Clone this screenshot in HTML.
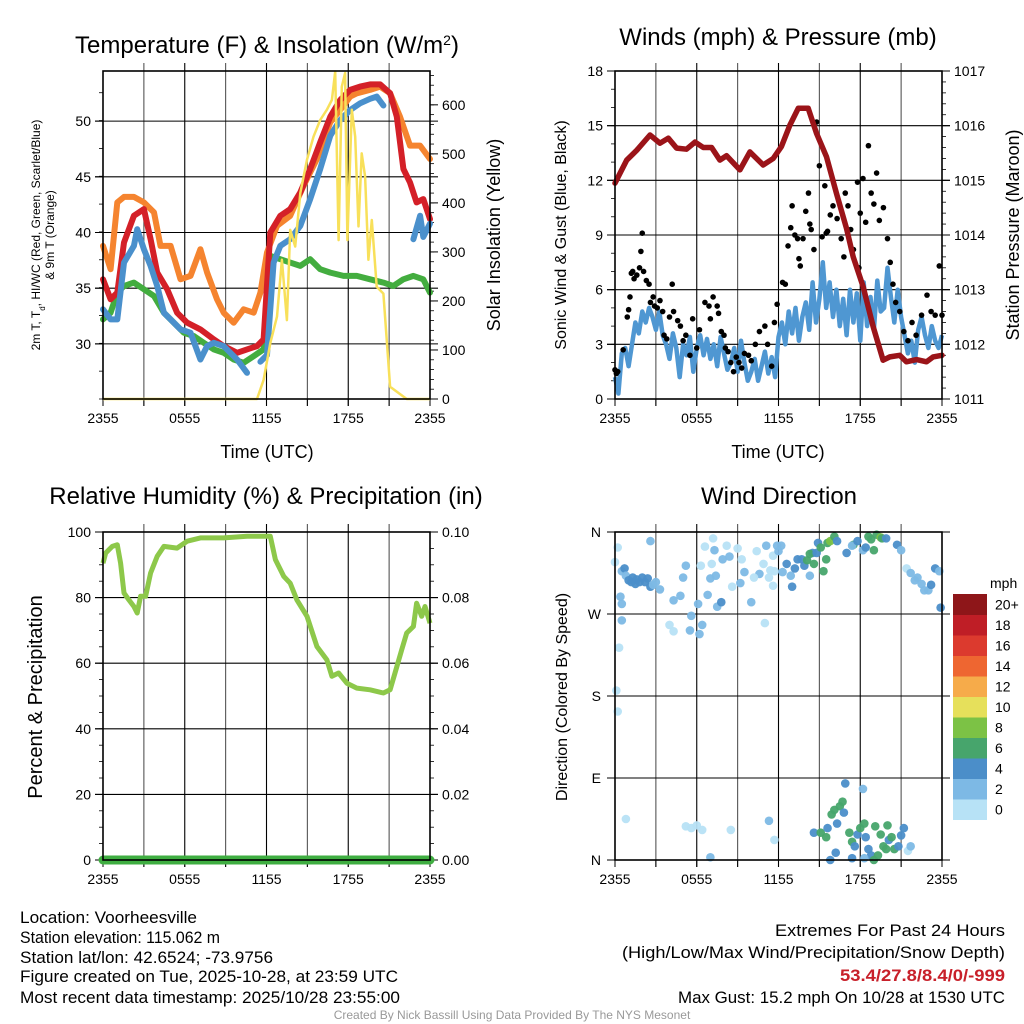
<!DOCTYPE html>
<html><head><meta charset="utf-8">
<style>
html,body{margin:0;padding:0;background:#fff;}
svg{display:block;font-family:"Liberation Sans",Arial,sans-serif;}
</style></head>
<body>
<svg id="fig" width="1024" height="1024" viewBox="0 0 1024 1024" xmlns="http://www.w3.org/2000/svg">
<rect width="1024" height="1024" fill="#fff"/>
<g id="p1"></g>
<g id="p2"></g>
<g id="p3"></g>
<g id="p4"></g>
<g font-size="17" fill="#000">
<text x="20" y="923" textLength="177" lengthAdjust="spacingAndGlyphs">Location: Voorheesville</text>
<text x="20" y="943" textLength="200" lengthAdjust="spacingAndGlyphs">Station elevation: 115.062 m</text>
<text x="20" y="963" textLength="253" lengthAdjust="spacingAndGlyphs">Station lat/lon: 42.6524; -73.9756</text>
<text x="20" y="982" textLength="378" lengthAdjust="spacingAndGlyphs">Figure created on Tue, 2025-10-28, at 23:59 UTC</text>
<text x="20" y="1003" textLength="380" lengthAdjust="spacingAndGlyphs">Most recent data timestamp: 2025/10/28 23:55:00</text>
<text x="1005" y="936" text-anchor="end" textLength="230" lengthAdjust="spacingAndGlyphs">Extremes For Past 24 Hours</text>
<text x="1005" y="958" text-anchor="end" textLength="383" lengthAdjust="spacingAndGlyphs">(High/Low/Max Wind/Precipitation/Snow Depth)</text>
<text x="1005" y="981" text-anchor="end" textLength="165" lengthAdjust="spacingAndGlyphs" fill="#c8202a" font-weight="bold">53.4/27.8/8.4/0/-999</text>
<text x="1005" y="1003" text-anchor="end" textLength="327" lengthAdjust="spacingAndGlyphs">Max Gust: 15.2 mph On 10/28 at 1530 UTC</text>
<text x="512" y="1019" text-anchor="middle" font-size="12" fill="#999">Created By Nick Bassill Using Data Provided By The NYS Mesonet</text>
</g>
</svg>
<script>
// ---------- data ----------
const xTickLabels = ["2355","0555","1155","1755","2355"];
// Temperature (hours since 2355, value F)
const redT = [0,0.56,1.05,1.54,2.27,3.0,3.49,3.98,4.71,5.44,6.18,7.15,8.13,8.86,9.84,10.57,11.3,11.79,12.28,13.01,13.74,14.48,15.21,15.94,16.68,17.41,18.14,18.87,19.6,20.34,21.07,21.56,22.05,22.53,23.02,23.51,24];
const redV = [35.8,34,34.6,39.1,41.5,42.1,39.4,36.4,34.9,32.8,31.9,31.3,30.4,29.8,29.2,29.5,29.8,30.4,40,41.5,42.1,43.6,45.7,48.1,50.4,51.9,52.8,53.1,53.3,53.3,52.5,50.4,45.7,44.5,42.7,43,41.2];
const orangeT = [0,0.56,1.05,1.54,2.27,3.0,3.74,4.22,4.96,5.69,6.42,7.15,7.64,8.37,8.86,9.59,10.33,11.06,11.55,12.04,12.77,13.74,14.72,15.7,16.68,17.41,18.14,18.63,19.6,20.34,21.07,21.8,22.53,23.27,24];
const orangeV = [38.8,36.7,42.7,43.2,43.2,42.7,41.8,38.8,38.8,35.8,36.1,38.5,36.4,34,32.8,31.9,33.1,32.8,34.6,38.2,40.6,41.5,44.2,46.6,49.9,51,52.2,52.5,52.8,53.1,52.5,50.4,47.8,47.8,46.6];
const blueT = [0,0.56,1.05,1.54,2.27,2.51,3.0,3.49,3.98,4.47,4.96,5.69,6.42,7.15,7.64,8.13,8.86,9.84,10.57,11.06,11.55,12.04,12.52,13.01,13.74,14.48,15.21,15.94,16.68,17.41,18.14,18.87,19.6,20.09,20.58,20.8,22.78,23.27,23.51,24];
const blueV = [33.1,32.2,32.2,37.3,38.8,40.3,38.5,37,35.2,32.8,32.2,31.3,31,28.6,29.8,30.1,29.8,28.6,27.4,null,28.4,29,37.3,38.8,39.4,40.6,43,45.7,48.7,50.1,51,51.6,52,52.2,51.4,null,39.4,41.5,39.6,40.8];
const greenT = [0,0.56,1.05,1.54,2.27,3.0,3.74,4.47,5.2,5.93,6.67,7.4,8.13,8.86,9.59,10.33,11.06,11.79,12.28,13.01,13.74,14.48,15.21,15.94,16.68,17.65,18.63,19.6,20.58,21.31,22.05,22.78,23.51,24];
const greenV = [32.2,32.8,34.6,35.2,35.5,34.9,34.3,32.8,31.9,31,30.7,30.1,29.5,29.2,28.6,28.3,28.9,29.5,37.9,37.6,37.3,37,37.6,36.7,36.4,36.1,36.1,35.8,35.5,35.2,35.8,36.1,35.8,34.6];
const solarT = [0,11.3,11.79,12.28,12.77,13.13,13.5,13.74,14.11,14.48,14.97,15.45,15.94,16.43,16.8,17.04,17.29,17.53,17.77,17.94,18.26,18.51,18.75,18.99,19.24,19.48,19.73,20.09,20.58,21.07,22.29,24];
const solarV = [0,0,39,114,168,284,161,345,311,420,488,535,569,590,610,668,324,637,665,324,590,535,352,501,454,284,365,229,215,25,0,0];
// Winds
const windV = [1.2,0.3,2.5,2.8,1.8,3.0,4.2,3.6,4.8,4.2,5.0,4.5,3.8,4.8,3.5,3.0,2.2,3.6,2.8,1.2,3.0,2.4,3.4,1.5,2.8,3.5,2.4,3.3,2.2,3.0,1.8,3.4,2.5,1.6,2.0,2.8,1.5,3.2,2.0,1.0,1.5,2.2,1.0,1.8,2.6,1.4,2.3,1.2,3.4,4.2,3.0,4.8,3.6,5.0,3.2,4.5,5.3,3.8,6.4,4.2,5.5,7.5,5.0,6.4,4.5,6.0,4.0,5.5,3.5,6.0,4.2,5.8,3.2,6.4,4.0,5.6,3.8,6.5,4.8,5.0,7.2,5.6,4.2,6.0,4.5,3.5,2.5,3.2,2.0,3.8,4.5,3.5,2.8,4.0,3.2,2.8,3.5];
const gustT = [0,0.1,0.2,0.6,0.9,1.0,1.1,1.2,1.3,1.4,1.6,1.8,1.9,2.0,2.1,2.3,2.5,2.6,2.8,2.9,3.1,3.3,3.5,3.6,3.8,4.0,4.2,4.3,4.6,4.8,5.0,5.2,5.5,5.7,6.0,6.2,6.6,6.9,7.0,7.2,7.5,7.6,7.8,8.0,8.1,8.3,8.5,8.7,8.9,9.1,9.3,9.5,9.8,10.0,10.3,10.6,11.0,11.2,11.5,11.7,11.9,12.3,12.5,12.7,12.9,13.0,13.2,13.4,13.6,13.8,14.0,14.2,14.4,14.6,14.8,15.0,15.2,15.4,15.6,15.8,16.0,16.3,16.6,16.9,17.1,17.3,17.5,17.8,18.0,18.2,18.4,18.6,18.8,19.0,19.2,19.4,19.7,20.0,20.2,20.4,20.6,20.9,21.2,21.5,21.8,22.1,22.5,22.9,23.2,23.5,23.8,24.0,13.5,14.3,15.5,16.8,17.9];
const gustV = [1.6,1.4,1.5,2.7,4.5,4.9,5.6,6.9,7.0,6.6,6.8,7.2,8.1,9.1,7.0,6.5,6.3,5.3,5.6,5.1,5.0,5.4,4.8,3.5,3.3,4.5,6.3,4.8,4.3,4.0,3.2,3.5,2.4,4.4,2.8,3.8,5.3,5.1,4.4,5.6,5.1,4.7,3.7,3.5,2.8,2.6,2.0,1.5,2.3,2.0,1.7,2.5,2.4,2.1,3.0,3.7,4.0,3.0,1.8,4.2,5.2,6.4,6.3,8.4,9.4,10.6,9.0,8.8,7.3,8.8,10.3,11.3,9.3,8.2,15.2,12.8,8.9,11.7,9.2,10.1,10.6,9.9,8.8,11.3,10.6,9.3,8.2,11.9,10.2,12.1,9.7,13.9,11.3,10.7,12.4,9.8,10.5,8.8,7.5,6.3,5.3,4.8,3.7,3.2,4.2,3.5,4.6,5.7,4.8,4.6,7.3,4.6,7.7,9.6,9.1,7.8,7.2];
const presT = [0,0.86,1.59,2.57,3.3,3.91,4.52,5.25,5.87,6.48,7.09,7.7,8.19,9.17,9.9,10.88,11.61,12.22,12.84,13.45,14.18,14.79,15.52,16.26,16.99,17.48,18.22,18.95,19.68,20.17,20.9,21.39,22.13,22.86,23.35,24];
const presV = [1014.95,1015.37,1015.55,1015.83,1015.68,1015.77,1015.59,1015.57,1015.7,1015.6,1015.6,1015.37,1015.45,1015.19,1015.52,1015.28,1015.4,1015.62,1016.01,1016.32,1016.32,1015.86,1015.43,1014.76,1014.12,1013.6,1013.05,1012.32,1011.71,1011.77,1011.8,1011.68,1011.72,1011.68,1011.77,1011.8];
// Humidity
const rhT = [0,0.2,0.68,1.05,1.29,1.54,1.9,2.27,2.51,2.76,3.13,3.49,3.98,4.47,5.44,6.18,7.15,8.86,10.57,12.28,12.65,13.26,13.74,14.23,14.97,15.7,16.43,16.8,17.29,17.9,18.63,19.6,20.58,21.07,21.43,21.92,22.29,22.78,23.02,23.39,23.63,24];
const rhV = [90.5,93.6,95.6,96.1,90.5,81.4,79.3,77.3,75.3,80.4,80.4,87.5,92.6,95.6,95.1,97.2,98.2,98.2,98.7,98.7,91.6,86.5,84.4,79.3,74.3,65.1,61,56,57,53.9,52.4,51.9,50.9,51.9,57,64.1,69.2,71.2,78.3,74.3,77.3,72.2];
const precipT = [0,24];
const precipV = [0,0];
// Wind direction: hours, degrees, mph
const dirT = [0.0,0.2,0.5,0.7,0.8,1.0,1.2,1.3,1.5,1.6,1.8,2.0,2.2,2.4,2.6,2.8,3.0,3.3,0.5,0.4,0.5,0.3,0.1,0.2,2.6,4.0,4.3,4.3,4.8,5.0,5.2,5.5,5.6,6.1,6.4,6.2,6.6,6.8,6.3,7.0,7.1,7.4,7.5,7.8,7.3,7.2,7.9,8.2,8.4,8.6,9.0,9.2,9.5,10.0,10.4,10.6,10.9,11.1,11.3,11.7,11.4,11.6,11.9,12.0,12.2,11.0,11.6,9.3,10.2,12.3,12.6,12.9,13.0,13.2,13.4,13.7,13.9,14.1,14.3,14.5,14.3,14.6,14.8,14.9,15.1,15.3,15.5,15.6,15.8,16.1,16.3,17.0,17.5,17.4,17.8,18.2,18.4,18.6,18.8,19.0,19.2,19.5,19.6,19.9,20.7,21.0,21.4,21.7,22.0,22.2,22.5,22.7,23.0,23.2,23.5,23.8,23.9,14.6,15.1,15.5,15.6,15.9,16.1,16.3,16.5,16.7,16.8,16.9,17.2,17.4,17.6,17.8,18.0,18.2,18.3,18.4,18.6,18.8,19.0,19.3,19.5,19.7,19.9,20.1,20.3,20.5,20.8,21.0,21.2,21.5,21.7,16.2,17.4,15.8,18.3,19.1,20.0,0.8,5.2,5.6,6.4,8.5,11.3,11.7,7.0,6.0];
const dirV = [327,343,317,320,312,307,305,310,303,308,305,310,305,309,300,302,305,297,281,289,263,233,186,163,350,258,251,285,290,310,323,252,268,281,258,248,344,291,323,309,325,312,278,283,340,353,330,345,333,300,342,304,316,283,339,314,325,345,310,317,318,334,345,339,345,260,301,330,310,316,325,312,300,320,330,330,323,329,312,337,336,325,337,348,343,317,330,348,350,355,350,337,346,345,350,340,343,355,352,340,357,354,353,353,346,340,320,315,307,310,303,296,296,302,320,317,277,30,30,25,35,50,55,40,59,64,52,84,30,20,15,28,35,78,40,25,12,5,0,5,28,15,12,22,25,12,15,27,35,10,15,8,2,0,2,37,38,45,37,35,33,33,43,22,3,38];
const dirS = [1,1.5,3,4,2.5,4,4,4,4,4.5,4,4,4,4,5,3,3,3,2,2.5,2,1,1,1,2.5,1.5,1.5,2.5,3,2.5,2.5,3,2,3,3,2,1,2.5,1.5,2,1.5,2,3,4,2.5,1,2.5,1.5,2,1.5,1.5,2,2,2.5,1.5,2.5,1,2,1.5,1,1.5,1,2.5,2,2.5,1,1.5,1,1.5,3.5,4,3.5,4.5,4,4,4,4.5,6.5,3.5,4,6.5,6.5,5,4,6.5,6.5,6.5,6.5,8.5,6.5,4.5,4.5,6.5,3.5,4.5,2.5,5,6.5,6.5,6.5,6.5,8.5,6.5,4,4,2,1.5,2,2,3,2,3.5,3,4,4,3,4.5,4.5,6.5,6,4.5,6.5,6.5,5,6.5,6.5,4.5,4.5,6.5,6.5,4.5,4,6.5,2.5,6.5,4.5,4,4.5,6.5,6.5,6.5,6.5,6.5,4.5,6.5,6,4,4,4.5,1.5,2,4.5,4.5,4.5,3,6.5,6.5,1.5,1.5,1,1,1,2,1,2.5,1.5];
const speedLabels = ["0","2","4","6","8","10","12","14","16","18","20+"];
const speedColors = ["#b7e2f6","#7db9e5","#4b8ec9","#47a56c","#7cc245","#e6e05b","#f6ab4a","#ee6631","#dc3a2e","#bf1e26","#8e1619"];

// ---------- helpers ----------
const NS="http://www.w3.org/2000/svg";
function mk(tag,attrs,parent){const e=document.createElementNS(NS,tag);for(const k in attrs)e.setAttribute(k,attrs[k]);parent.appendChild(e);return e;}
function txt(parent,x,y,s,size,anchor,extra){const t=mk('text',Object.assign({x:x,y:y,'font-size':size,'text-anchor':anchor||'middle',fill:'#000'},extra||{}),parent);t.textContent=s;return t;}
function linePath(xs,ys,sx,sy){let d='',pen=false;for(let i=0;i<xs.length;i++){if(ys[i]===null||ys[i]===undefined){pen=false;continue;}d+=(pen?'L':'M')+sx(xs[i]).toFixed(1)+','+sy(ys[i]).toFixed(1);pen=true;}return d;}

function frame(g,box){
  const {x0,x1,y0,y1}=box;
  const sx=t=>x0+(t/24)*(x1-x0);
  for(let h=3;h<24;h+=3){const l=mk('line',{x1:sx(h),x2:sx(h),y1:y0-8,y2:y1+7,stroke:(h%6===0?'#000':'#555'),'stroke-width':1.1},g);
    
    }
  for(let i=0;i<xTickLabels.length;i++){const t=txt(g,sx(i*6),y1+24,xTickLabels[i],14);
    
    }
  for(let h=0;h<=24;h+=3){mk('line',{x1:sx(h),x2:sx(h),y1:y1,y2:y1+7,stroke:'#000','stroke-width':1},g);}
  return sx;
}
function yAxis(g,box,min,max,major,minor,side,fmt,gridlines){
  const {x0,x1,y0,y1}=box;
  const sy=v=>y1-(v-min)/(max-min)*(y1-y0);
  const X=side==='left'?x0:x1, dir=side==='left'?-1:1;
  for(let v=min;v<=max+1e-9;v+=minor){const y=sy(v);mk('line',{x1:X,x2:X+dir*4,y1:y,y2:y,stroke:'#000','stroke-width':0.8},g);}
  for(let v=Math.ceil(min/major-1e-9)*major;v<=max+1e-9;v+=major){const y=sy(v);
    if(gridlines){const gl=mk('line',{x1:x0-8,x2:x1+8,y1:y,y2:y,stroke:'#000','stroke-width':1.1},g);
      
      }
    mk('line',{x1:X,x2:X+dir*8,y1:y,y2:y,stroke:'#000','stroke-width':1},g);
    const t=txt(g,X+dir*12,y+5,fmt(v),14,side==='left'?'end':'start');
    
    }
  return sy;
}
function border(g,box){const r=mk('rect',{x:box.x0,y:box.y0,width:box.x1-box.x0,height:box.y1-box.y0,fill:'none',stroke:'#000','stroke-width':1.6},g);
  
  }

// ---------- Panel 1 ----------
(function(){
const g=document.getElementById('p1');
const box={x0:103,x1:430,y0:71,y1:399};
const sx=frame(g,box);
const sy=yAxis(g,box,25.05,54.5,5,2.5,'left',v=>String(Math.round(v)),true);
const sr=yAxis(g,box,0,669,100,20,'right',v=>String(Math.round(v)),false);
const series=[[orangeT,orangeV,'#f5842f','orange-9m-temp-line',sy],[greenT,greenV,'#43ad3f','green-dewpoint-line',sy],[redT,redV,'#d42028','red-2m-temp-line',sy],[blueT,blueV,'#4a90cc','blue-windchill-line',sy]];
for(const s of series){const p=mk('path',{d:linePath(s[0],s[1],sx,s[4]),fill:'none',stroke:s[2],'stroke-width':6,'stroke-linejoin':'round','stroke-linecap':'round'},g);
  
  }
const p=mk('path',{d:linePath(solarT,solarV,sx,sr),fill:'none',stroke:'#f8e05a','stroke-width':2.5,'stroke-linejoin':'round'},g);


border(g,box);
const t=txt(g,267,53,'Temperature (F) & Insolation (W/m',24);
const sup=mk('tspan',{'baseline-shift':'super','font-size':14},t);sup.textContent='2';
const tc=mk('tspan',{'baseline-shift':'0'},t);tc.textContent=')';


const xl=txt(g,267,458,'Time (UTC)',18);


const yl=mk('g',{transform:'translate(40,235) rotate(-90)'},g);


const l1=txt(yl,0,0,'2m T, T',12); const sub=mk('tspan',{'baseline-shift':'sub','font-size':8},l1); sub.textContent='d'; const rest=mk('tspan',{'baseline-shift':'0'},l1); rest.textContent=', HI/WC (Red, Green, Scarlet/Blue)';
txt(yl,0,14,'& 9m T (Orange)',12);
const ry=txt(g,0,0,'Solar Insolation (Yellow)',18,'middle',{transform:'translate(500,235) rotate(-90)'});


})();

// ---------- Panel 2 ----------
(function(){
const g=document.getElementById('p2');
const box={x0:615,x1:942,y0:71,y1:399};
const sx=frame(g,box);
const sy=yAxis(g,box,0,18,3,1,'left',v=>String(Math.round(v)),true);
const sp=yAxis(g,box,1011,1017,1,0.2,'right',v=>String(Math.round(v)),false);
const wt=windV.map((v,i)=>i*24/(windV.length-1));
const w=mk('path',{d:linePath(wt,windV,sx,sy),fill:'none',stroke:'#4f97d2','stroke-width':4.5,'stroke-linejoin':'round'},g);


for(let i=0;i<gustT.length;i++){const c=mk('circle',{cx:sx(gustT[i]),cy:sy(gustV[i]),r:2.8,fill:'#000'},g);
  
  }
const p=mk('path',{d:linePath(presT,presV,sx,sp),fill:'none',stroke:'#9b1419','stroke-width':5.5,'stroke-linejoin':'round','stroke-linecap':'round'},g);


border(g,box);
const t=txt(g,778,45,'Winds (mph) & Pressure (mb)',24);


const xl=txt(g,778,458,'Time (UTC)',18);


const yl=txt(g,0,0,'Sonic Wind & Gust (Blue, Black)',16,'middle',{transform:'translate(566,235) rotate(-90)'});


const ry=txt(g,0,0,'Station Pressure (Maroon)',18,'middle',{transform:'translate(1019,235) rotate(-90)'});


})();

// ---------- Panel 3 ----------
(function(){
const g=document.getElementById('p3');
const box={x0:103,x1:430,y0:532,y1:860};
const sx=frame(g,box);
const sy=yAxis(g,box,0,100,20,5,'left',v=>String(Math.round(v)),true);
const sr=yAxis(g,box,0,0.1,0.02,0.005,'right',v=>v.toFixed(2),false);
const p=mk('path',{d:linePath(rhT,rhV,sx,sy),fill:'none',stroke:'#8dc84a','stroke-width':5,'stroke-linejoin':'round'},g);


const q=mk('path',{d:linePath(precipT,precipV,sx,sr),fill:'none',stroke:'#3fae41','stroke-width':9,'stroke-linecap':'round'},g);


border(g,box);
const t=txt(g,266,504,'Relative Humidity (%) & Precipitation (in)',24);


const yl=txt(g,0,0,'Percent & Precipitation',20,'middle',{transform:'translate(42,697) rotate(-90)'});


})();

// ---------- Panel 4 ----------
(function(){
const g=document.getElementById('p4');
const box={x0:615,x1:942,y0:532,y1:860};
const sx=frame(g,box);
const sy=v=>box.y1-v/360*(box.y1-box.y0);
const dirLabels=["N","E","S","W","N"];
for(let i=0;i<5;i++){const y=sy(i*90);
  const gl=mk('line',{x1:box.x0-8,x2:box.x1+8,y1:y,y2:y,stroke:'#000','stroke-width':1.1},g);
  
  
  const t=txt(g,box.x0-14,y+5,dirLabels[i],14,'end');
  
  }
for(let i=0;i<dirT.length;i++){const bin=Math.min(10,Math.floor(dirS[i]/2));
  const c=mk('circle',{cx:sx(dirT[i]),cy:sy(dirV[i]),r:4.3,fill:speedColors[bin],'fill-opacity':0.95},g);
  
  }
border(g,box);
const t=txt(g,779,504,'Wind Direction',24);


const yl=txt(g,0,0,'Direction (Colored By Speed)',16,'middle',{transform:'translate(567,697) rotate(-90)'});


const cb=mk('g',{},g);


const top=594,h=20.5;
for(let i=0;i<11;i++){const y=top+(10-i)*h;
  const r=mk('rect',{x:953,y:y,width:34,height:h+0.5,fill:speedColors[i]},cb);
  
  
  const l=txt(cb,995,y+h/2+5,speedLabels[i],14,'start');
  
  }
const u=txt(cb,990,588,'mph',14,'start');


})();
</script>
</body></html>
